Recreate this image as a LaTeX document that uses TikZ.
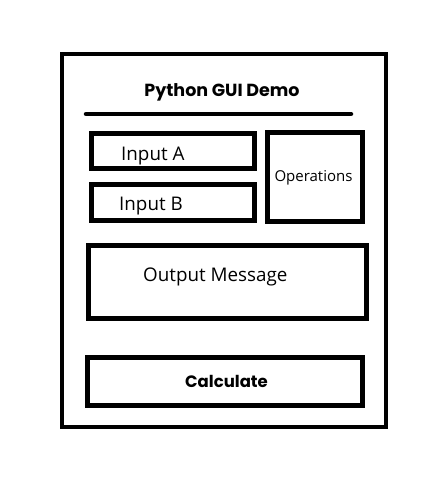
\documentclass[tikz,border=0pt]{standalone}
\usepackage{fontspec}
\setmainfont{Open Sans}
\newfontfamily\titlefont{Poppins}
\begin{document}
\begin{tikzpicture}[x=1pt,y=-1pt,
  frame/.style={draw=black,line width=4pt},
  box/.style={draw=black,line width=5pt},
  lbl/.style={inner sep=0pt,font=\fontsize{18.8}{22}\selectfont},
  bold/.style={inner sep=0pt}]
\useasboundingbox (0,0) rectangle (441,484);
\draw[frame] (62,54) rectangle (386,427);
\node[bold,anchor=base,font=\titlefont\bfseries\fontsize{17.5}{20}\selectfont] (title) at (222,96) {Python GUI Demo};
\coordinate (rl) at (86,114);
\coordinate (rr) at (351,114);
\draw[line width=4.5pt,line cap=round] (rl) -- (rr);
\draw[box] (91.5,133.5) rectangle (254,168.5);
\node[lbl,anchor=base west] (a) at (121,160) {Input A};
\draw[box] (91.5,184.5) rectangle (254,220.5);
\node[lbl,anchor=base west] (b) at (119,210) {Input B};
\draw[box] (267.5,132.5) rectangle (362.5,221.5);
\node[lbl,anchor=base,font=\fontsize{15}{18}\selectfont] (ops) at (313.5,181) {Operations};
\draw[box] (88.5,245.5) rectangle (366.5,318.5);
\node[lbl,anchor=base west] (out) at (143,281) {Output Message};
\draw[box] (87.5,357.5) rectangle (362.5,405.5);
\node[bold,anchor=base,font=\titlefont\bfseries\fontsize{16.5}{19}\selectfont] (calc) at (226.5,387) {Calculate};
\end{tikzpicture}
\end{document}
